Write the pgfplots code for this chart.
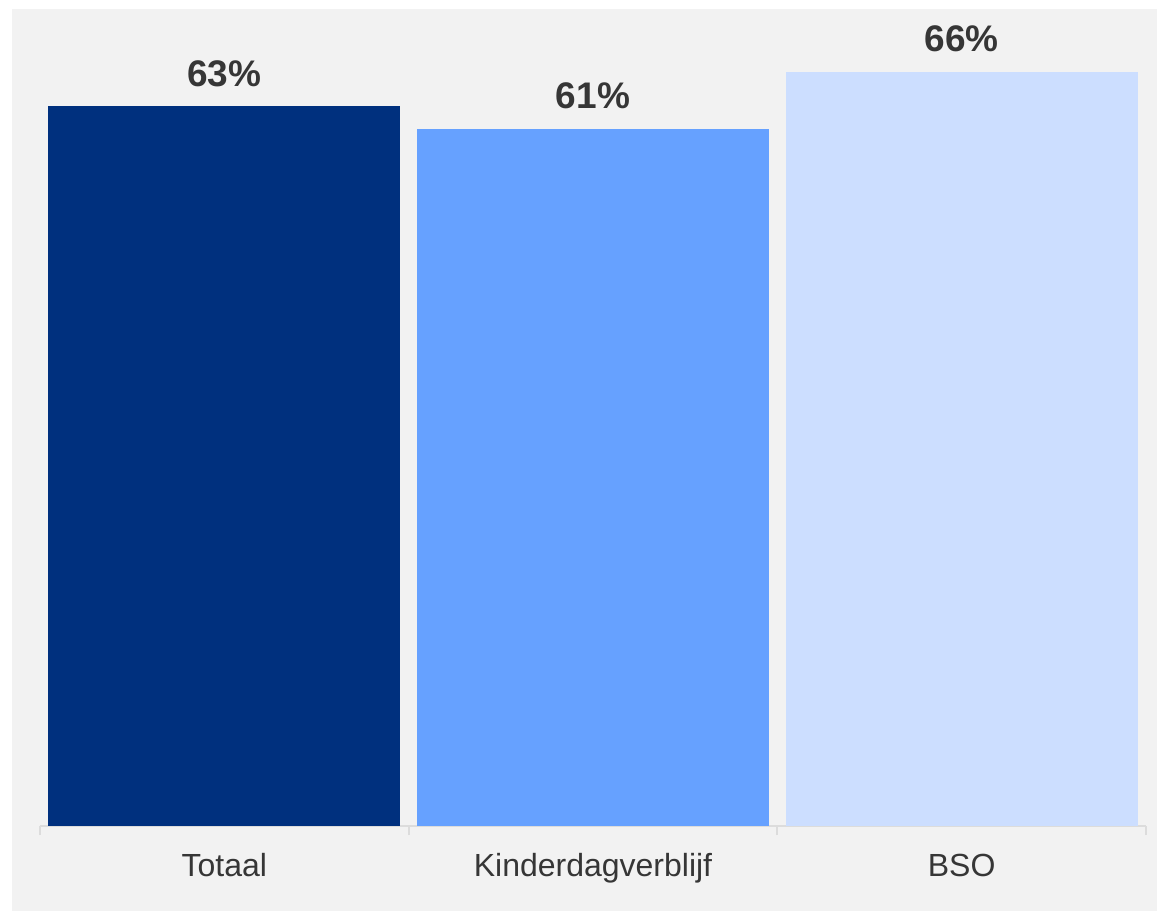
\documentclass[border=0pt]{standalone}
\usepackage{pgfplots}
\pgfplotsset{compat=1.18}
\usepackage{fontspec}
\setmainfont{Liberation Sans}
\definecolor{bg}{HTML}{F2F2F2}
\definecolor{cTot}{HTML}{00307E}
\definecolor{cKdv}{HTML}{66A1FF}
\definecolor{cBso}{HTML}{CCDEFF}
\definecolor{txt}{HTML}{363636}
\definecolor{axl}{HTML}{DCDCDC}
\begin{document}
\begin{tikzpicture}
\path[use as bounding box] (0,0) rectangle (578.5pt,455.5pt);
\fill[bg] (6pt,0) rectangle (578.5pt,451pt);
\begin{axis}[
  at={(20pt,42.5pt)}, anchor=south west,
  scale only axis, width=553pt, height=405.5pt,
  ymin=0, ymax=70.95, xmin=-0.5, xmax=2.5,
  axis y line=none, axis x line*=bottom,
  axis line style={axl, line width=1pt},
  xtick={0,1,2}, xticklabels={Totaal,Kinderdagverblijf,BSO},
  major tick length=0pt,
  minor xtick={-0.5,0.5,1.5,2.5},
  minor tick length=4.5pt, tick align=outside,
  minor tick style={axl, line width=1pt},
  xticklabel style={anchor=base, yshift=-25pt, font=\fontsize{16pt}{19pt}\selectfont, text=txt},
  /pgf/number format/assume math mode=true,
  ybar, bar width=176pt, bar shift=0pt,
  nodes near coords={\pgfmathprintnumber{\pgfplotspointmeta}\%},
  nodes near coords style={anchor=south, inner sep=0pt, yshift=9.5pt, font=\bfseries\fontsize{18.5pt}{22pt}\selectfont, text=txt},
  clip=false,
]
\addplot[fill=cTot, draw=none] coordinates {(0,63)};
\addplot[fill=cKdv, draw=none] coordinates {(1,61)};
\addplot[fill=cBso, draw=none] coordinates {(2,66)};
\end{axis}
\end{tikzpicture}
\end{document}
